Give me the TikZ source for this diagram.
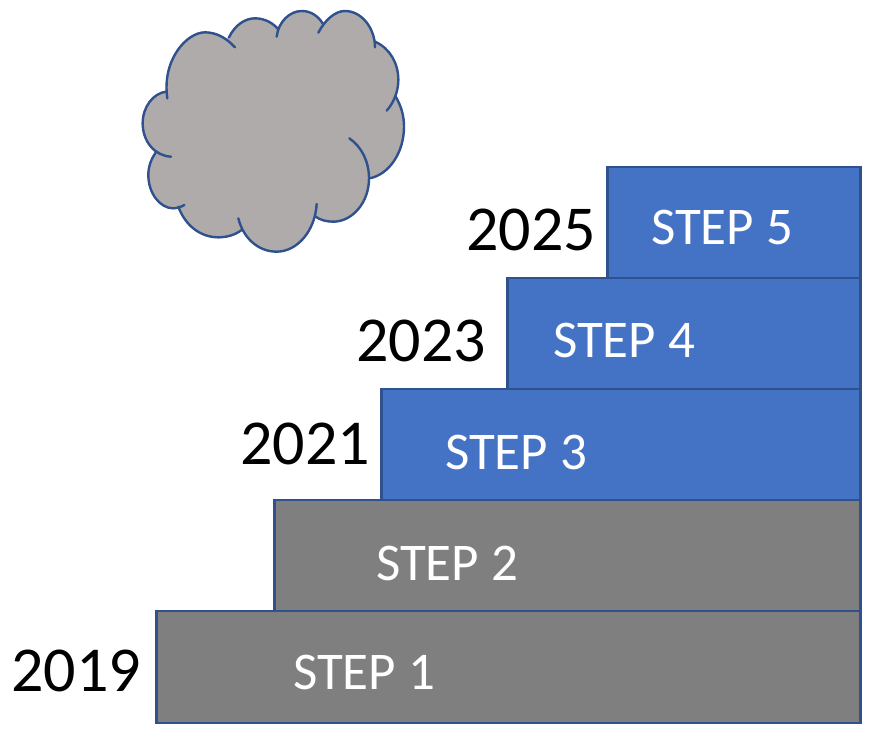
\documentclass[tikz,border=0pt]{standalone}
\usepackage{fontspec}
\setmainfont{Carlito}
\definecolor{edge}{HTML}{2F528F}
\definecolor{bluefill}{HTML}{4472C4}
\definecolor{grayfill}{HTML}{7F7F7F}
\definecolor{cloudfill}{HTML}{AFABAB}
\tikzset{
  px/.style={x=1pt,y=-1pt},
  stepbar/.style={draw=edge,line width=2.6pt,inner sep=0pt},
  bluebar/.style={stepbar,fill=bluefill},
  graybar/.style={stepbar,fill=grayfill},
  steplabel/.style={text=white,font=\fontsize{53}{53}\selectfont,inner sep=0pt},
  yearlabel/.style={text=black,font=\fontsize{64}{64}\selectfont,inner sep=0pt},
  lobe/.style={draw=edge,line width=2.4pt,line cap=round},
  lobefill/.style={fill=cloudfill,draw=cloudfill,line width=1.6pt,line join=round}
}
\newcommand{\cloudlobes}[1]{%
  \path[#1] (112,295) .. controls (95,180) and (170,97) .. (225,97) .. controls (260,97) and (290,115) .. (315,142);
  \path[#1] (297,112) .. controls (315,75) and (345,55) .. (375,55) .. controls (405,55) and (430,70) .. (445,88);
  \path[#1] (440,110) .. controls (445,65) and (480,33) .. (515,33) .. controls (545,33) and (565,50) .. (578,70);
  \path[#1] (565,98) .. controls (585,60) and (615,33) .. (645,33) .. controls (695,33) and (735,85) .. (735,142);
  \path[#1] (735,125) .. controls (780,145) and (805,190) .. (805,240) .. controls (805,275) and (790,310) .. (770,332);
  \path[#1] (797,290) .. controls (815,320) and (822,350) .. (822,380) .. controls (822,460) and (775,525) .. (718,535);
  \path[#1] (658,415) .. controls (695,440) and (717,485) .. (717,535) .. controls (717,610) and (665,665) .. (610,665) .. controls (590,665) and (570,660) .. (557,650);
  \path[#1] (560,612) .. controls (555,695) and (500,755) .. (440,755) .. controls (385,755) and (340,715) .. (325,655);
  \path[#1] (335,690) .. controls (315,705) and (290,712) .. (265,712) .. controls (210,712) and (165,675) .. (145,620);
  \path[#1] (163,615) .. controls (155,620) and (140,625) .. (130,625) .. controls (90,625) and (55,580) .. (55,525) .. controls (55,500) and (63,478) .. (77,458);
  \path[#1] (123,470) .. controls (75,468) and (38,425) .. (38,370) .. controls (38,320) and (70,280) .. (108,275);
}
\begin{document}
\begin{tikzpicture}[px]
\useasboundingbox (0,0) rectangle (872,728);
\begin{scope}[shift={(130,0)},x=0.33333pt,y=-0.33333pt]
  \cloudlobes{lobefill}
  \path[lobefill] (108,275) -- (297,112) -- (445,88) -- (578,70) -- (735,125) -- (797,290) -- (718,535) -- (557,650) -- (335,690) -- (145,620) -- (77,458) -- cycle;
  \cloudlobes{lobe}
\end{scope}
\node[graybar,anchor=north west,minimum width=704pt,minimum height=112pt] (bar1) at (155,609.5) {};
\node[graybar,anchor=north west,minimum width=586pt,minimum height=111pt] (bar2) at (273,498.5) {};
\node[bluebar,anchor=north west,minimum width=479pt,minimum height=111pt] (bar3) at (380,387.5) {};
\node[bluebar,anchor=north west,minimum width=353pt,minimum height=111pt] (bar4) at (506,276.5) {};
\node[bluebar,anchor=north west,minimum width=253pt,minimum height=111pt] (bar5) at (606,165.5) {};
\node[steplabel,anchor=base] (s1) at (364,689) {STEP 1};
\node[steplabel,anchor=base] (s2) at (447,580) {STEP 2};
\node[steplabel,anchor=base] (s3) at (516,469) {STEP 3};
\node[steplabel,anchor=base] (s4) at (624,357) {STEP 4};
\node[steplabel,anchor=base] (s5) at (722,244.5) {STEP 5};
\node[yearlabel,anchor=base] (y1) at (76,691) {2019};
\node[yearlabel,anchor=base] (y2) at (305,464) {2021};
\node[yearlabel,anchor=base] (y3) at (421,361) {2023};
\node[yearlabel,anchor=base] (y4) at (531,250) {2025};
\end{tikzpicture}
\end{document}
